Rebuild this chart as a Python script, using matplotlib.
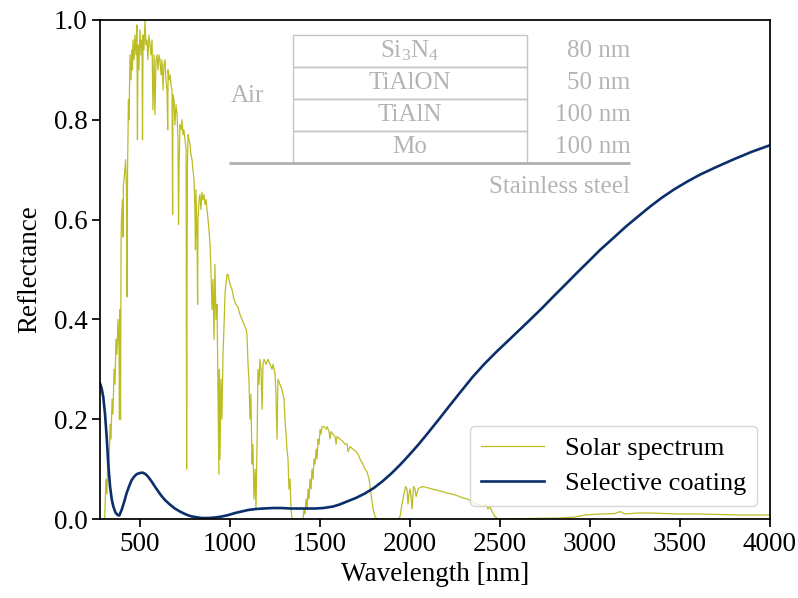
import matplotlib
matplotlib.use("Agg")
import matplotlib.pyplot as plt
from matplotlib.patches import Rectangle

plt.rcParams["font.family"] = ["Liberation Serif", "DejaVu Serif"]
plt.rcParams["mathtext.fontset"] = "custom"
plt.rcParams["mathtext.rm"] = "Liberation Serif"
plt.rcParams["mathtext.it"] = "Liberation Serif:italic"
plt.rcParams["font.size"] = 19.5

# Normalised AM1.5 solar spectrum (wavelength in nm, relative irradiance)
solar_wl = [
    297, 306, 313, 319, 324, 330, 336, 341, 347, 352, 358, 363, 369, 374, 380, 386,
    388, 391, 394, 397, 399, 405, 408, 410, 416, 422, 427, 430, 433, 435, 438, 441,
    447, 452, 458, 460, 463, 469, 474, 480, 485, 488, 491, 496, 502, 508, 513, 516,
    519, 524, 530, 535, 541, 546, 552, 558, 563, 569, 574, 580, 585, 591, 597, 602,
    608, 613, 619, 624, 630, 635, 641, 646, 652, 656, 658, 663, 669, 674, 680, 683,
    685, 691, 696, 702, 708, 713, 716, 719, 724, 730, 735, 741, 746, 752, 758, 761,
    765, 769, 774, 780, 785, 791, 796, 802, 807, 810, 813, 819, 822, 824, 830, 835,
    841, 846, 852, 857, 863, 869, 874, 880, 885, 891, 896, 902, 907, 913, 918, 924,
    930, 935, 940, 943, 946, 952, 957, 963, 968, 974, 979, 985, 991, 996, 1002, 1013,
    1024, 1035, 1046, 1057, 1068, 1080, 1091, 1096, 1102, 1107, 1113, 1118, 1124, 1129,
    1135, 1141, 1146, 1152, 1157, 1163, 1168, 1174, 1180, 1185, 1191, 1202, 1213, 1224,
    1235, 1241, 1252, 1257, 1263, 1268, 1279, 1290, 1302, 1307, 1313, 1318, 1324, 1329,
    1335, 1341, 1346, 1407, 1413, 1418, 1424, 1430, 1435, 1441, 1446, 1452, 1457, 1463,
    1468, 1474, 1480, 1485, 1491, 1496, 1502, 1507, 1513, 1524, 1535, 1541, 1552, 1557,
    1563, 1574, 1585, 1591, 1596, 1613, 1629, 1640, 1652, 1657, 1668, 1685, 1701, 1713,
    1724, 1740, 1751, 1762, 1774, 1785, 1796, 1807, 1818, 1935, 1946, 1957, 1968, 1977,
    1985, 1990, 1996, 2001, 2007, 2012, 2021, 2029, 2035, 2046, 2057, 2073, 2096, 2123,
    2151, 2179, 2207, 2234, 2262, 2290, 2318, 2345, 2368, 2390, 2407, 2423, 2434, 2445,
    2456, 2473, 2490, 2834, 2917, 2973, 3056, 3139, 3167, 3195, 3261, 3334, 3417, 3500,
    3611, 3722, 3833, 4000,
]
solar_val = [
    0.0, 0.0, 0.08, 0.05, 0.14, 0.10, 0.19, 0.16, 0.24, 0.21, 0.30, 0.27, 0.36, 0.33, 0.40, 0.34,
    0.20, 0.42, 0.20, 0.55, 0.60, 0.64, 0.565, 0.67, 0.69, 0.72, 0.66, 0.445, 0.70, 0.75, 0.84, 0.80,
    0.93, 0.88, 0.94, 0.90, 0.96, 0.92, 0.97, 0.93, 0.99, 0.76, 0.95, 0.90, 0.98, 0.93, 0.96, 0.76,
    0.97, 0.94, 1.00, 0.95, 0.96, 0.92, 0.97, 0.95, 0.93, 0.96, 0.82, 0.93, 0.81, 0.92, 0.93, 0.90,
    0.93, 0.92, 0.89, 0.92, 0.86, 0.91, 0.92, 0.88, 0.86, 0.78, 0.90, 0.88, 0.89, 0.87, 0.86, 0.61,
    0.85, 0.84, 0.79, 0.83, 0.81, 0.76, 0.59, 0.70, 0.79, 0.78, 0.80, 0.77, 0.78, 0.76, 0.74, 0.10,
    0.70, 0.77, 0.76, 0.75, 0.73, 0.72, 0.70, 0.68, 0.62, 0.54, 0.66, 0.55, 0.43, 0.60, 0.64, 0.65,
    0.62, 0.655, 0.64, 0.65, 0.63, 0.64, 0.62, 0.60, 0.58, 0.55, 0.50, 0.42, 0.48, 0.36, 0.51, 0.40,
    0.43, 0.25, 0.09, 0.30, 0.12, 0.28, 0.20, 0.33, 0.38, 0.45, 0.47, 0.49, 0.49, 0.48, 0.47, 0.46,
    0.44, 0.43, 0.425, 0.41, 0.40, 0.39, 0.38, 0.37, 0.31, 0.28, 0.20, 0.25, 0.11, 0.15,
    0.04, 0.10, 0.02, 0.15, 0.30, 0.27, 0.32, 0.30, 0.22, 0.31, 0.32, 0.31, 0.32, 0.31,
    0.30, 0.31, 0.29, 0.25, 0.16, 0.28, 0.27, 0.26, 0.24, 0.20, 0.17, 0.14, 0.12, 0.06,
    0.08, 0.02, 0.0, 0.0, 0.02, 0.01, 0.04, 0.02, 0.06, 0.04, 0.08, 0.06, 0.10, 0.08,
    0.12, 0.11, 0.14, 0.12, 0.16, 0.15, 0.18, 0.17, 0.185, 0.185, 0.18, 0.185, 0.175, 0.16,
    0.175, 0.17, 0.165, 0.15, 0.165, 0.16, 0.155, 0.15, 0.15, 0.135, 0.145, 0.14, 0.135, 0.13,
    0.12, 0.11, 0.10, 0.095, 0.08, 0.05, 0.02, 0.005, 0.0, 0.0, 0.005, 0.03, 0.05, 0.065,
    0.06, 0.03, 0.05, 0.06, 0.045, 0.02, 0.065, 0.06, 0.045, 0.06, 0.063, 0.065, 0.063, 0.06,
    0.058, 0.055, 0.052, 0.05, 0.047, 0.043, 0.04, 0.036, 0.03, 0.028, 0.025, 0.03, 0.02, 0.025,
    0.015, 0.005, 0.0, 0.002, 0.004, 0.008, 0.01, 0.011, 0.015, 0.01, 0.012, 0.012, 0.011, 0.01,
    0.01, 0.009, 0.008, 0.008,
]

# Reflectance of the Si3N4/TiAlON/TiAlN/Mo stack on stainless steel
coating_wl = [
    280, 289, 298, 308, 317, 326, 336, 345, 354, 366, 378, 387, 400, 414, 428, 442,
    456, 470, 484, 500, 516, 528, 539, 553, 567, 585, 604, 622, 641, 668, 696, 724,
    752, 780, 807, 845, 880, 918, 956, 993, 1030, 1066, 1102, 1145, 1185, 1240, 1290,
    1340, 1390, 1430, 1474, 1520, 1574, 1610, 1651, 1700, 1750, 1800, 1850, 1900, 1950,
    1996, 2050, 2100, 2160, 2223, 2285, 2350, 2415, 2484, 2560, 2650, 2730, 2806, 2870,
    2930, 2995, 3056, 3130, 3200, 3270, 3334, 3400, 3470, 3540, 3611, 3700, 3800, 3900, 4000,
]
coating_r = [
    0.272, 0.262, 0.245, 0.21, 0.165, 0.11, 0.065, 0.040, 0.025, 0.013, 0.008, 0.007, 0.018, 0.034, 0.052, 0.066,
    0.078, 0.085, 0.090, 0.092, 0.093, 0.091, 0.088, 0.082, 0.075, 0.065, 0.055, 0.046, 0.038, 0.029, 0.021, 0.015,
    0.010, 0.006, 0.004, 0.002, 0.002, 0.003, 0.005, 0.008, 0.012, 0.015, 0.018, 0.020, 0.021, 0.022, 0.022,
    0.021, 0.021, 0.021, 0.021, 0.022, 0.025, 0.029, 0.035, 0.042, 0.051, 0.062, 0.076, 0.092, 0.110,
    0.128, 0.150, 0.172, 0.199, 0.228, 0.256, 0.285, 0.311, 0.336, 0.362, 0.393, 0.421, 0.449, 0.472,
    0.494, 0.517, 0.539, 0.563, 0.586, 0.607, 0.626, 0.644, 0.661, 0.676, 0.690, 0.705, 0.721, 0.736, 0.749,
]

layer_names = ["Si$_3$N$_4$", "TiAlON", "TiAlN", "Mo"]
layer_thickness = ["80 nm", "50 nm", "100 nm", "100 nm"]
ambient_label = "Air"
substrate_label = "Stainless steel"

fig = plt.figure(figsize=(7.98, 5.98), dpi=100)
ax = fig.add_axes([0.1253, 0.1321, 0.8396, 0.8345])

ax.plot(solar_wl, solar_val, color="#bcbd22", lw=0.9, label="Solar spectrum")
ax.plot(coating_wl, coating_r, color="#0b2f6b", lw=1.9, label="Selective coating")

# Layer stack sketch
grey_text = "#b4b4b4"
grey_line = "#c4c4c4"
inset_fs = 18
box_left, box_right = 1350, 2650
row_edges = [0.970, 0.906, 0.842, 0.778, 0.714]
for i, (name, thick) in enumerate(zip(layer_names, layer_thickness)):
    top, bottom = row_edges[i], row_edges[i + 1]
    ax.add_patch(Rectangle((box_left, bottom), box_right - box_left, top - bottom,
                           fill=False, edgecolor=grey_line, lw=1.0, zorder=3))
    mid = 0.5 * (top + bottom)
    ax.text(0.5 * (box_left + box_right), mid, name, color=grey_text,
            ha="center", va="center", fontsize=inset_fs, zorder=4)
    ax.text(3225, mid, thick, color=grey_text, ha="right", va="center",
            fontsize=inset_fs, zorder=4)
ax.plot([995, 3225], [row_edges[-1], row_edges[-1]], color="#b0b0b0", lw=2.0,
        solid_capstyle="butt", zorder=4)
ax.text(1100, 0.848, ambient_label, color=grey_text, ha="center", va="center",
        fontsize=inset_fs)
ax.text(3225, 0.666, substrate_label, color=grey_text, ha="right", va="center",
        fontsize=inset_fs)

ax.set_xlim(280, 4000)
ax.set_ylim(0, 1)
ax.set_xticks([500, 1000, 1500, 2000, 2500, 3000, 3500, 4000])
ax.set_yticks([0.0, 0.2, 0.4, 0.6, 0.8, 1.0])
ax.set_xlabel("Wavelength [nm]", fontsize=19.5, labelpad=4)
ax.set_ylabel("Reflectance", fontsize=19.5, labelpad=8)
for s in ax.spines.values():
    s.set_linewidth(1.25)
ax.tick_params(direction="out", length=5.5, width=1.25, labelsize=19.5)

leg = ax.legend(loc="lower right", fontsize=19, framealpha=0.8, edgecolor="#cccccc",
                handlelength=2.4, borderpad=0.4, labelspacing=0.45, handletextpad=0.8)

fig.savefig("out.png", dpi=100)
